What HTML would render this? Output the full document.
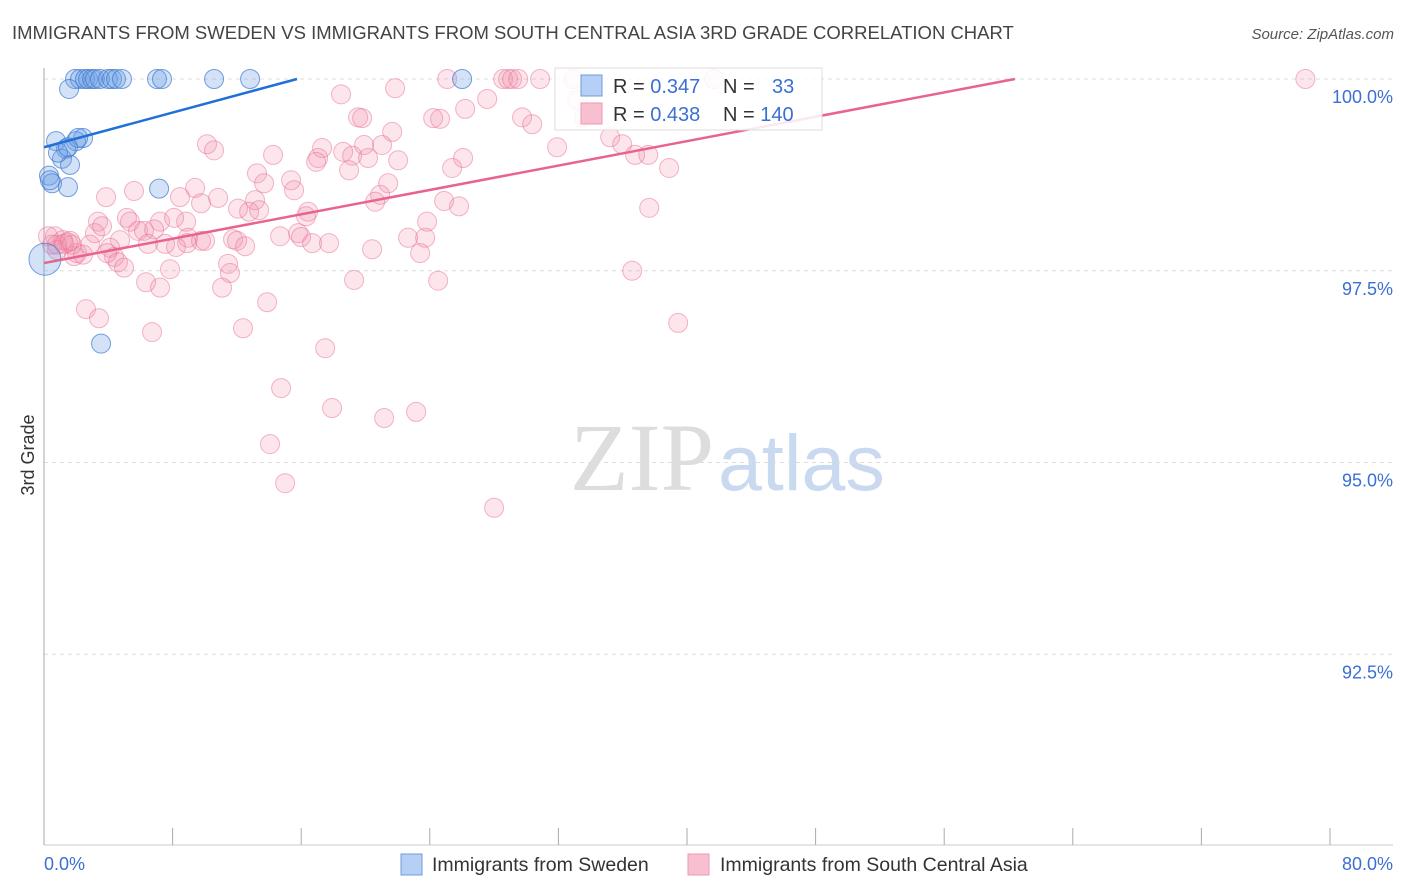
<!DOCTYPE html>
<html><head><meta charset="utf-8"><style>
body{margin:0;background:#fff;font-family:"Liberation Sans",sans-serif;}
#wrap{position:relative;width:1406px;height:892px;overflow:hidden}
</style></head><body>
<div id="wrap">
<svg id="svg" width="1406" height="892">
<text x="12" y="39" font-size="18.5" fill="#444">IMMIGRANTS FROM SWEDEN VS IMMIGRANTS FROM SOUTH CENTRAL ASIA 3RD GRADE CORRELATION CHART</text>
<text x="1394" y="39" font-size="15" fill="#555" font-style="italic" text-anchor="end">Source: ZipAtlas.com</text>
<text x="714" y="490" font-size="96" fill="#ddd" text-anchor="end" font-family="Liberation Serif,serif">ZIP</text>
<text x="718" y="490" font-size="79" fill="#c9d9f0">atlas</text>
<g id="grid"></g><g id="axes"></g><g id="pts"></g><g id="lines"></g>
<text transform="translate(34,455) rotate(-90)" font-size="18" fill="#333" text-anchor="middle">3rd Grade</text>
<text x="44" y="870" font-size="18" fill="#3b6fd4">0.0%</text>
<text x="1393" y="870" font-size="18" fill="#3b6fd4" text-anchor="end">80.0%</text>
<g>
<rect x="555" y="68" width="267" height="62" fill="#fff" fill-opacity="0.85" stroke="#ddd"/>
<rect x="581" y="75" width="21" height="21" fill="#b6cff5" stroke="#6d9be0"/>
<rect x="581" y="103" width="21" height="21" fill="#f8bfd0" stroke="#ee9ab3"/>
<text x="613" y="93" font-size="20" fill="#333">R = <tspan fill="#3b6fd4">0.347</tspan></text>
<text x="723" y="93" font-size="20" fill="#333">N = <tspan fill="#3b6fd4" x="772">33</tspan></text>
<text x="613" y="121" font-size="20" fill="#333">R = <tspan fill="#3b6fd4">0.438</tspan></text>
<text x="723" y="121" font-size="20" fill="#333">N = <tspan fill="#3b6fd4">140</tspan></text>
</g>
<g>
<rect x="401" y="854" width="21" height="21" fill="#b6cff5" stroke="#6d9be0"/>
<text x="432" y="871" font-size="19.5" fill="#333">Immigrants from Sweden</text>
<rect x="688" y="854" width="21" height="21" fill="#f8bfd0" stroke="#ee9ab3"/>
<text x="720" y="871" font-size="19.5" fill="#333">Immigrants from South Central Asia</text>
</g>
</svg></div>
<script>
const yTicks=[100,97.5,95,92.5];
const yTickLabels=["100.0%","97.5%","95.0%","92.5%"];
const xTicks=[0,8,16,24,32,40,48,56,64,72,80];
const blueX=[1.93,2.24,2.55,2.74,2.99,3.17,3.48,3.98,4.23,4.48,4.85,7.03,7.34,10.58,12.82,26.01,1.56,0.75,2.43,1.99,1.37,1.12,1.62,0.87,0.31,0.5,1.49,7.16,3.55,0.06,0.37,2.12,1.49];
const blueY=[100,100,100,100,100,100,100,100,100,100,100,100,100,100,100,100,99.87,99.19,99.23,99.19,99.09,98.96,98.88,99.04,98.74,98.64,98.59,98.57,96.55,97.65,98.68,99.23,99.11];
const pinkX=[25.08,28.56,28.87,29.12,29.50,30.86,32.92,41.69,78.47,21.84,18.48,27.57,26.20,19.54,19.79,24.21,24.64,29.74,30.37,21.66,35.22,35.97,36.77,37.59,38.89,37.65,36.59,39.45,10.14,10.58,14.25,17.30,17.05,16.93,18.61,19.17,20.16,19.91,21.03,22.03,26.07,25.39,31.92,18.98,13.25,13.69,15.37,15.56,21.41,20.91,20.60,24.89,25.82,23.83,5.60,3.86,9.40,8.46,10.83,9.77,13.13,12.07,12.76,13.38,16.43,16.30,14.69,15.81,15.99,16.68,17.73,20.41,22.65,23.71,23.40,3.36,3.17,5.16,5.35,3.61,7.22,8.84,8.09,5.85,6.22,6.85,8.96,8.90,9.77,10.02,11.76,12.01,12.51,8.21,7.53,6.47,4.73,4.11,4.36,4.60,4.98,7.84,11.45,11.57,1.87,2.05,2.43,0.68,1.18,1.49,1.74,0.50,0.81,0.25,6.35,7.22,11.08,19.29,24.52,2.61,3.42,6.72,12.38,13.88,17.49,14.75,17.92,21.16,23.15,14.06,15.00,28.00,0.81,1.24,1.62,2.86,3.92,33.60,33.17];
const pinkY=[100,100,100,100,100,100,100,100,100,99.88,99.80,99.74,99.61,99.50,99.49,99.49,99.48,99.50,99.41,99.31,99.24,99.15,99.01,99.01,98.84,98.32,97.50,96.82,99.15,99.07,99.01,99.10,98.97,98.92,99.05,99.00,98.97,99.14,99.14,98.94,98.97,98.84,99.11,98.81,98.77,98.64,98.68,98.55,98.64,98.49,98.40,98.41,98.34,98.14,98.54,98.46,98.58,98.46,98.45,98.38,98.42,98.31,98.27,98.29,98.27,98.21,97.95,97.99,97.94,97.86,97.86,97.78,97.93,97.93,97.73,98.14,97.99,98.19,98.14,98.08,98.14,98.14,98.19,98.02,98.02,98.04,97.93,97.86,97.89,97.89,97.91,97.89,97.82,97.81,97.85,97.85,97.90,97.80,97.68,97.61,97.54,97.52,97.59,97.47,97.69,97.73,97.71,97.95,97.90,97.87,97.84,97.84,97.77,97.95,97.35,97.28,97.28,97.38,97.37,97.00,96.88,96.70,96.75,97.09,96.49,95.97,95.71,95.58,95.66,95.24,94.73,94.41,97.84,97.85,97.89,97.84,97.73,99.50,99.73];
const blueTrend=[0,99.11,15.74,100];
const pinkTrend=[0,97.60,60.4,100];
const X=v=>44+v*16.075, Y=v=>79+(100-v)*76.7;
const NS="http://www.w3.org/2000/svg";
function mk(tag,attrs,parent){const e=document.createElementNS(NS,tag);for(const k in attrs)e.setAttribute(k,attrs[k]);document.getElementById(parent).appendChild(e);return e;}
yTicks.forEach((t,i)=>{
  const l=mk('line',{x1:44,x2:1393,y1:Y(t),y2:Y(t),stroke:'#ddd','stroke-dasharray':'4,4'},'grid');
  
  
  const tx=mk('text',{x:1393,y:Y(t)+24,'font-size':18,fill:'#3b6fd4','text-anchor':'end'},'grid');
  tx.textContent=yTickLabels[i];
  
  
});
const ax=mk('line',{x1:44,x2:44,y1:68,y2:845,stroke:'#aaa'},'axes');


const bx=mk('line',{x1:44,x2:1393,y1:845,y2:845,stroke:'#ccc'},'axes');


xTicks.forEach(t=>{
  const l=mk('line',{x1:X(t),x2:X(t),y1:828,y2:845,stroke:'#aaa'},'axes');
  
  
});
pinkX.forEach((x,i)=>{
  const c=mk('circle',{cx:X(x),cy:Y(pinkY[i]),r:9.5,fill:'rgba(242,140,170,0.22)',stroke:'rgba(232,110,150,0.5)','stroke-width':1},'pts');
  
  
});
blueX.forEach((x,i)=>{
  const c=mk('circle',{cx:X(x),cy:Y(blueY[i]),r:(i==29?16:9.5),fill:'rgba(110,160,230,0.3)',stroke:'rgba(60,120,210,0.7)','stroke-width':1},'pts');
  
  
});
const bl=mk('line',{x1:X(blueTrend[0]),y1:Y(blueTrend[1]),x2:X(blueTrend[2]),y2:Y(blueTrend[3]),stroke:'#2070d8','stroke-width':2.5},'lines');


const pl=mk('line',{x1:X(pinkTrend[0]),y1:Y(pinkTrend[1]),x2:X(pinkTrend[2]),y2:Y(pinkTrend[3]),stroke:'#e8648f','stroke-width':2.5},'lines');


</script>
</body></html>
